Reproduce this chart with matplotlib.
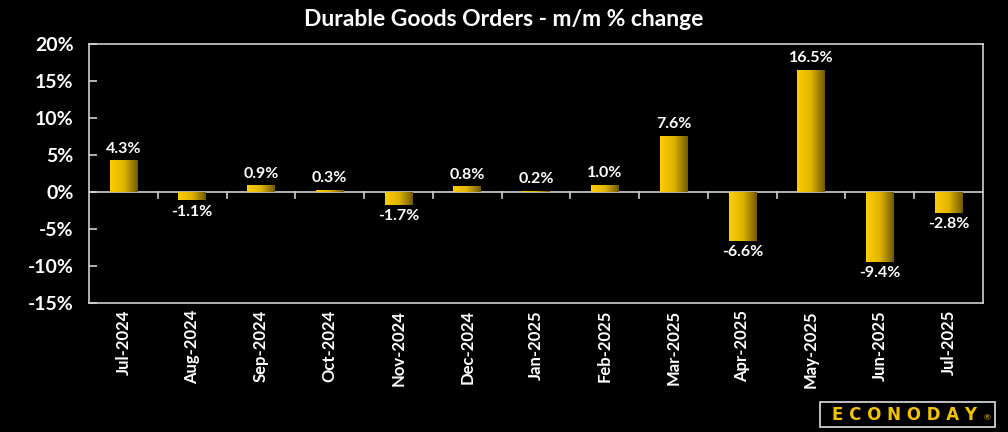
import matplotlib
matplotlib.use("Agg")
import matplotlib.pyplot as plt
import numpy as np
from matplotlib.colors import LinearSegmentedColormap
from matplotlib.patches import Rectangle

categories = ["Jul-2024", "Aug-2024", "Sep-2024", "Oct-2024", "Nov-2024", "Dec-2024",
              "Jan-2025", "Feb-2025", "Mar-2025", "Apr-2025", "May-2025", "Jun-2025", "Jul-2025"]
values = [4.3, -1.1, 0.9, 0.3, -1.7, 0.8, 0.2, 1.0, 7.6, -6.6, 16.5, -9.4, -2.8]
yticks = [-15, -10, -5, 0, 5, 10, 15, 20]
title = "Durable Goods Orders - m/m % change"

plt.rcParams['font.family'] = ['Lato', 'DejaVu Sans']

fig = plt.figure(figsize=(10.08, 4.32), dpi=100, facecolor='black')
ax = fig.add_axes([89/1008, 1 - 303/432, (983-89)/1008, (303-44)/432])
ax.set_facecolor('black')

n = len(categories)
ax.set_xlim(-0.5, n - 0.5)
ax.set_ylim(-15, 20)

cmap = LinearSegmentedColormap.from_list('gold', ['#FFCE00', '#E0B400', '#6E5A00'])
grad = np.linspace(0, 1, 256).reshape(1, -1)
bw = 0.4
bars = ax.bar(range(n), values, width=bw, color='#C9A400', zorder=2, linewidth=0)
for i, (v, b) in enumerate(zip(values, bars)):
    x0 = i - bw / 2
    lo, hi = min(0, v), max(0, v)
    im = ax.imshow(grad, cmap=cmap, aspect='auto', extent=(x0, x0 + bw, lo, hi),
                   interpolation='bilinear', zorder=2.1)
    im.set_clip_path(b)
    if v >= 0:
        ax.text(i, v + 0.6, f"{v:.1f}%", ha='center', va='bottom', color='white',
                fontsize=11.5, fontweight='bold', zorder=3)
    else:
        ax.text(i, v - 0.6, f"{v:.1f}%", ha='center', va='top', color='white',
                fontsize=11.5, fontweight='bold', zorder=3)

ax.set_xlim(-0.5, n - 0.5)
ax.set_ylim(-15, 20)

# zero line and category boundary ticks
ax.axhline(0, color='#d0d0d0', lw=1.2, zorder=1.5)
for b in np.arange(0.5, n - 0.5, 1):
    ax.plot([b, b], [0, -0.8], color='#d0d0d0', lw=1.2, zorder=1.5, clip_on=False)

for s in ax.spines.values():
    s.set_color('#d0d0d0')
    s.set_linewidth(1.2)

ax.set_yticks(yticks)
ax.set_yticklabels([f"{t}%" for t in yticks], color='white', fontsize=14, fontweight='bold')
ax.tick_params(axis='y', direction='in', length=6, color='#d0d0d0', width=1.2, pad=11)
ax.set_xticks(range(n))
ax.set_xticklabels(categories, rotation=90, color='white', fontsize=12, fontweight='bold')
ax.tick_params(axis='x', length=0, pad=5)

fig.text(0.5, 1 - 20/432, title, ha='center', va='center', color='white',
         fontsize=16.5, fontweight='bold')

# Econoday logo
lx0, ly0, lx1, ly1 = 820/1008, 1 - 427/432, 995/1008, 1 - 402/432
fig.patches.append(Rectangle((lx0, ly0), lx1 - lx0, ly1 - ly0, transform=fig.transFigure,
                             facecolor='black', edgecolor='#e0e0e0', lw=1.2))
fig.text((lx0 + lx1) / 2 - 0.003, (ly0 + ly1) / 2, "E C O N O D A Y", ha='center', va='center',
         color='#F2C200', fontsize=12, fontweight='bold', family=['DejaVu Sans'])
fig.text(lx1 - 0.008, (ly0 + ly1) / 2 - 0.008, "®", ha='center', va='center',
         color='#F2C200', fontsize=6)

fig.savefig('out.png', dpi=100, facecolor='black')
